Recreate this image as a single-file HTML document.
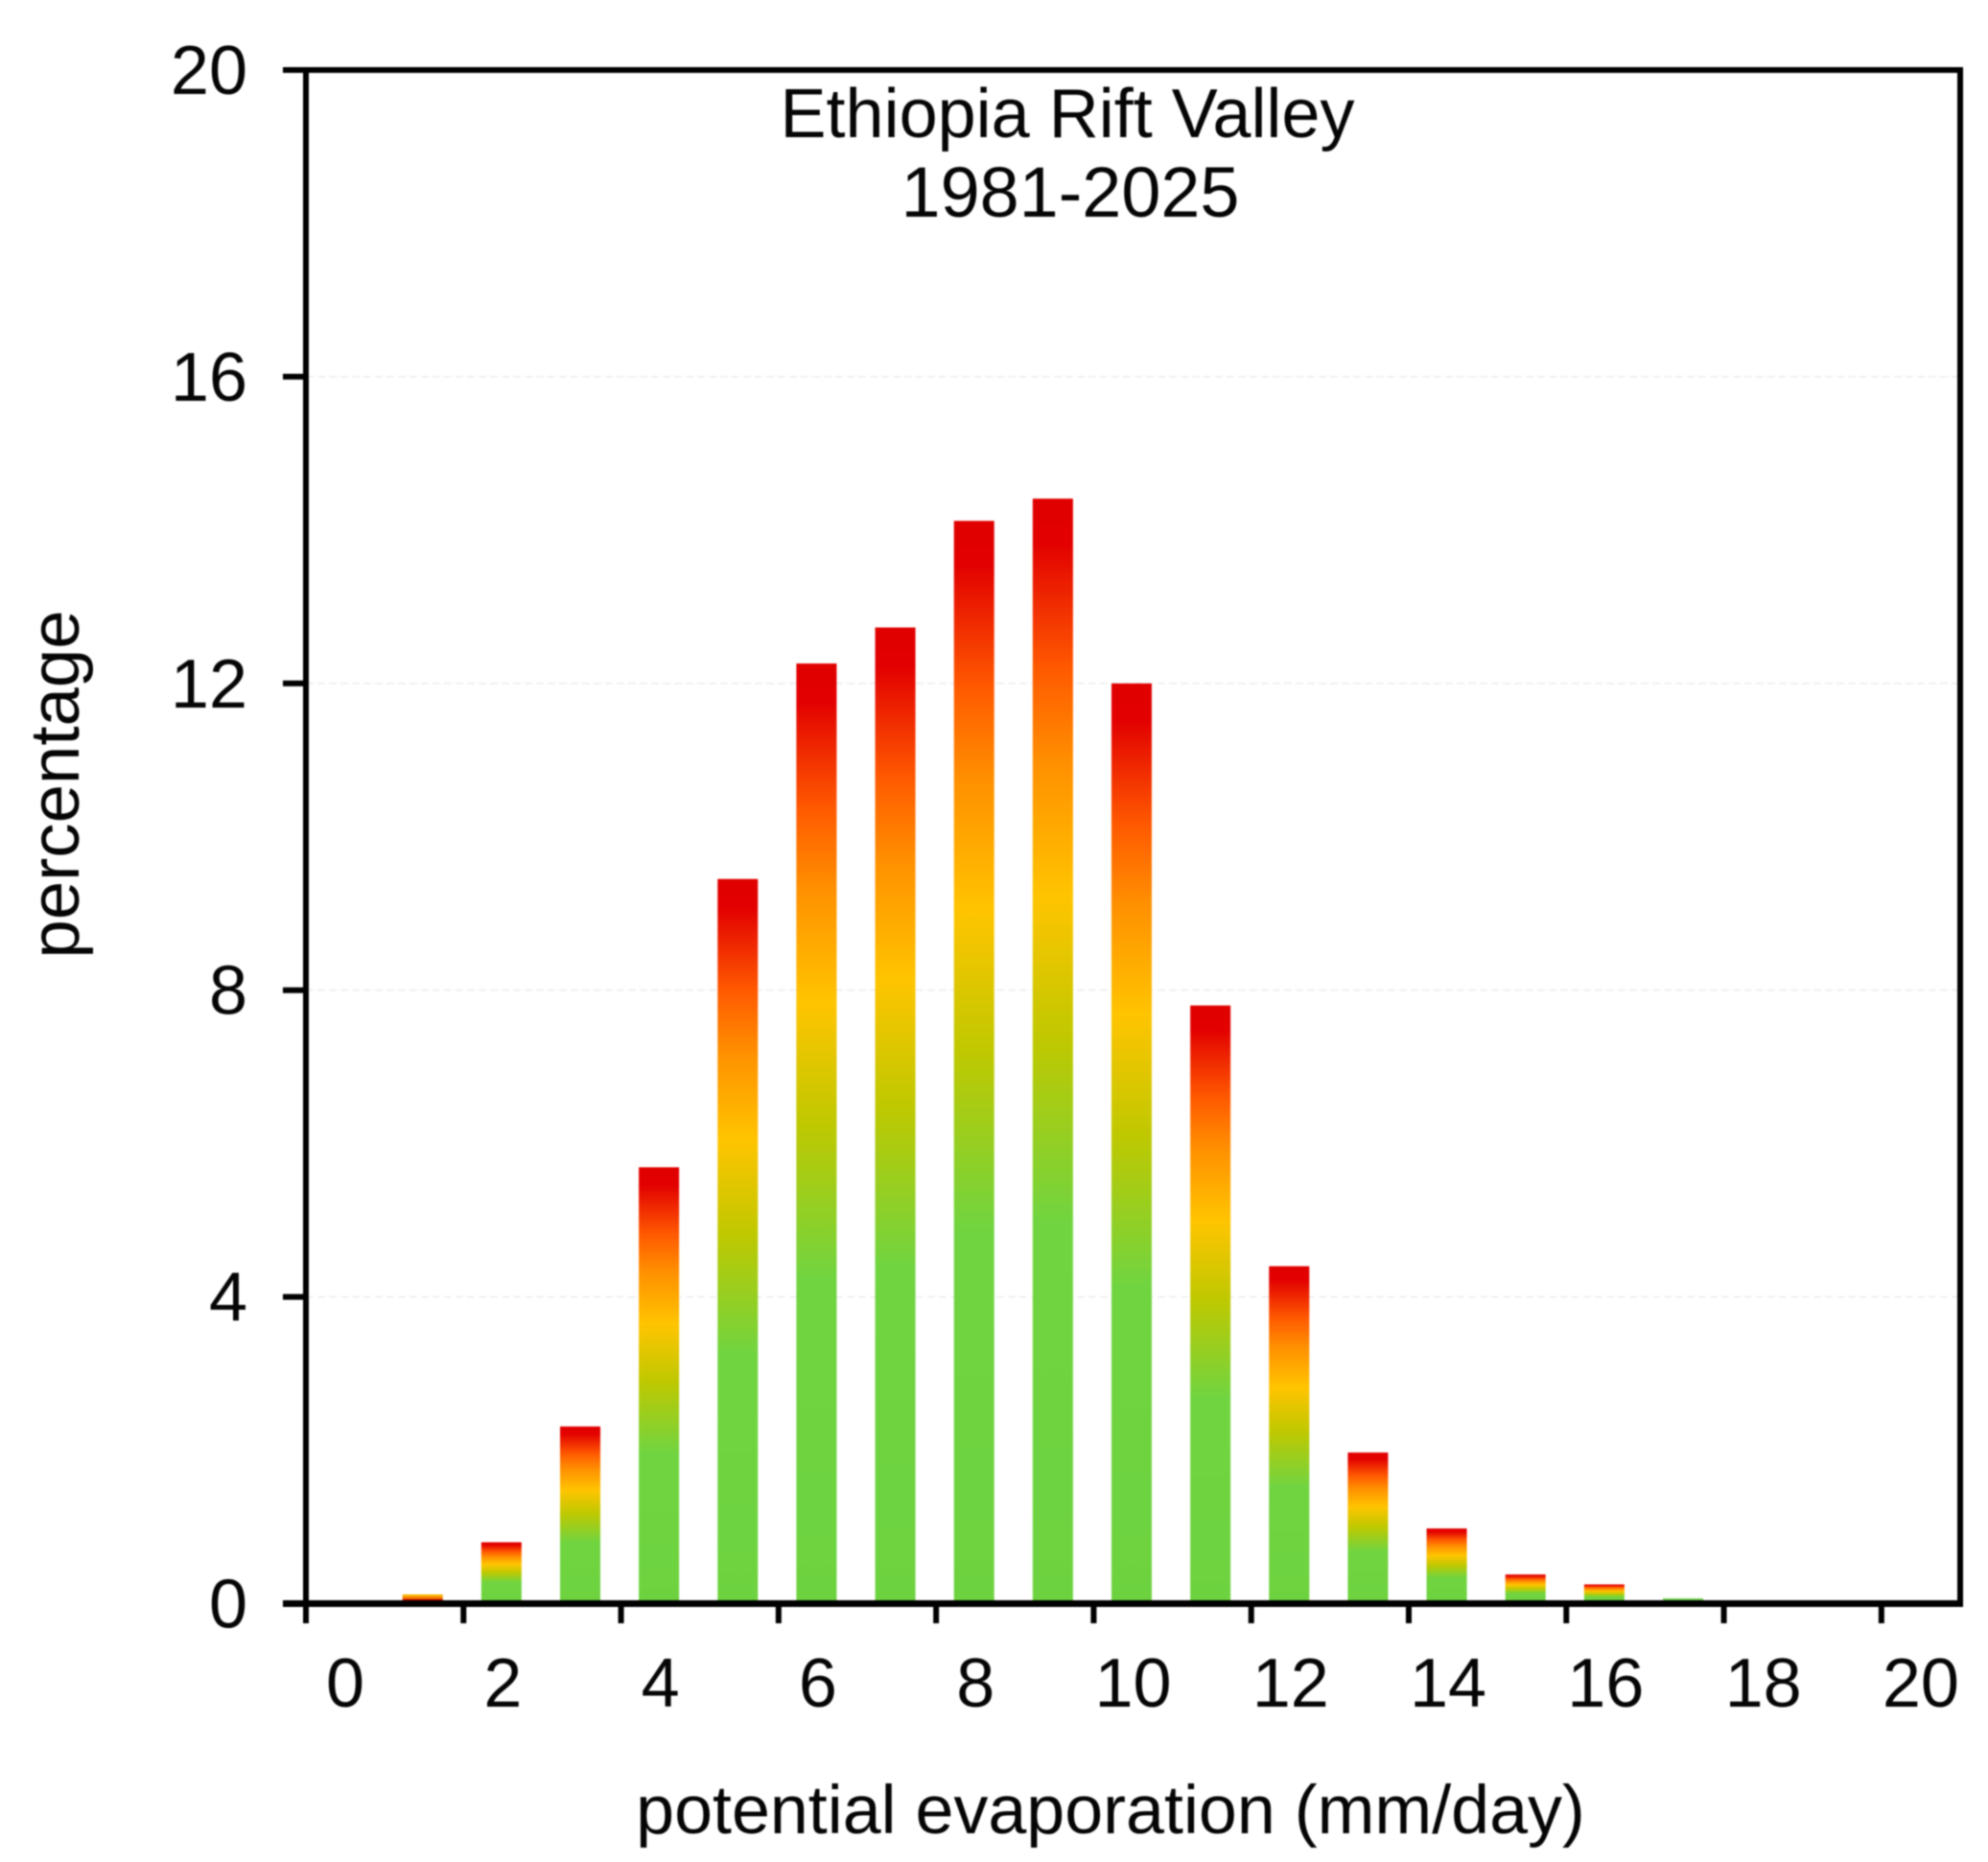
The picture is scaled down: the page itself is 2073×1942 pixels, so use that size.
<!DOCTYPE html>
<html lang="en">
<head>
<meta charset="utf-8">
<title>Ethiopia Rift Valley potential evaporation histogram</title>
<style>
  html, body { margin: 0; padding: 0; background: #fff; }
  body { width: 2073px; height: 1942px; overflow: hidden; }
  svg { display: block; filter: blur(0.8px); }
  text { font-family: "Liberation Sans", Arial, sans-serif; font-size: 72px; fill: #050505; }
</style>
</head>
<body>
<svg id="chart" xmlns="http://www.w3.org/2000/svg" width="2073" height="1942" viewBox="0 0 2073 1942">
  <defs>
    <linearGradient id="bar-gradient" x1="0" y1="0" x2="0" y2="1">
      <stop offset="0" stop-color="#e00000"/>
      <stop offset="0.04" stop-color="#e20000"/>
      <stop offset="0.155" stop-color="#ff5a00"/>
      <stop offset="0.24" stop-color="#ff9000"/>
      <stop offset="0.36" stop-color="#ffc400"/>
      <stop offset="0.49" stop-color="#bfc800"/>
      <stop offset="0.655" stop-color="#70d440"/>
      <stop offset="1" stop-color="#6dd23f"/>
    </linearGradient>
    <linearGradient id="bar-gradient-tiny" x1="0" y1="0" x2="0" y2="1">
      <stop offset="0" stop-color="#ffc400"/>
      <stop offset="0.4" stop-color="#f08000"/>
      <stop offset="0.6" stop-color="#d80000"/>
      <stop offset="1" stop-color="#b00000"/>
    </linearGradient>
  </defs>
  <rect x="0" y="0" width="2073" height="1942" fill="#ffffff"/>
  <g id="grid"></g>
  <g id="bars"></g>
  <g id="axes"></g>
  <text x="1113" y="143" text-anchor="middle">Ethiopia Rift Valley</text>
  <text x="1116" y="226" text-anchor="middle" style="font-size:73.8px">1981-2025</text>
  <text x="1158" y="1912" text-anchor="middle" style="font-size:71.8px">potential evaporation (mm/day)</text>
  <text transform="translate(82 818) rotate(-90)" text-anchor="middle" style="font-size:72.6px">percentage</text>
</svg>
<script>
const categories = [0, 1, 2, 3, 4, 5, 6, 7, 8, 9, 10, 11, 12, 13, 14, 15, 16, 17, 18, 19, 20];
const percentages = [0, 0.12, 0.8, 2.31, 5.69, 9.45, 12.26, 12.73, 14.12, 14.41, 12.0, 7.8, 4.4, 1.97, 0.98, 0.38, 0.25, 0.07, 0, 0, 0];
const xTickLabels = [0, 2, 4, 6, 8, 10, 12, 14, 16, 18, 20];
const yTickLabels = [0, 4, 8, 12, 16, 20];
const yMax = 20;

const NS = 'http://www.w3.org/2000/svg';
const plot = { left: 319, right: 2044, top: 73, bottom: 1672.5 };
const step = (plot.right - plot.left) / categories.length;
const barWidth = 42;
const barOffset = -1.5;

function xScale(k) { return plot.left + (k - categories[0] + 0.5) * step; }
function xBoundary(k) { return plot.left + (k - categories[0]) * step; }
function yScale(v) { return plot.bottom - (v / yMax) * (plot.bottom - plot.top); }

function make(tag, attrs, parent) {
  const el = document.createElementNS(NS, tag);
  for (const key in attrs) el.setAttribute(key, attrs[key]);
  parent.appendChild(el);
  return el;
}

function barFill(k, v) {
  if (v < 0.1) return '#7cd85a';
  if (k === 1) return 'url(#bar-gradient-tiny)';
  return 'url(#bar-gradient)';
}

const gridGroup = document.getElementById('grid');
const barsGroup = document.getElementById('bars');
const axesGroup = document.getElementById('axes');

yTickLabels.forEach(function (v) {
  const y = yScale(v);
  if (v > 0 && v < yMax) {
    const grid = make('line', { x1: plot.left, x2: plot.right, y1: y, y2: y, stroke: '#ececec', 'stroke-width': 1.5, 'stroke-dasharray': '8 4' }, gridGroup);
    
    
  }
  const tick = make('line', { x1: 295, x2: plot.left, y1: y, y2: y, stroke: '#000', 'stroke-width': 6 }, axesGroup);
  
  
  const label = make('text', { x: 258, y: y + 25, 'text-anchor': 'end' }, axesGroup);
  label.textContent = String(v);
  
  
});

categories.forEach(function (k, i) {
  const v = percentages[i];
  if (v <= 0) return;
  const top = yScale(v);
  const bar = make('rect', { x: xScale(k) + barOffset - barWidth / 2, y: top, width: barWidth, height: plot.bottom - top, fill: barFill(k, v) }, barsGroup);
  
  
});

xTickLabels.forEach(function (v) {
  const x = xBoundary(v);
  const tick = make('line', { x1: x, x2: x, y1: plot.bottom, y2: 1693, stroke: '#000', 'stroke-width': 6 }, axesGroup);
  
  
  const label = make('text', { x: xScale(v), y: 1780, 'text-anchor': 'middle' }, axesGroup);
  label.textContent = String(v);
  
  
});

const leftAxis = make('line', { x1: plot.left, x2: plot.left, y1: plot.top, y2: plot.bottom, stroke: '#000', 'stroke-width': 6 }, axesGroup);


const rightAxis = make('line', { x1: plot.right, x2: plot.right, y1: plot.top - 3, y2: plot.bottom + 3, stroke: '#000', 'stroke-width': 6 }, axesGroup);


const topAxis = make('line', { x1: 295, x2: plot.right + 3, y1: plot.top, y2: plot.top, stroke: '#000', 'stroke-width': 6 }, axesGroup);


const bottomAxis = make('line', { x1: 295, x2: plot.right + 3, y1: plot.bottom, y2: plot.bottom, stroke: '#000', 'stroke-width': 7 }, axesGroup);


</script>
</body>
</html>
